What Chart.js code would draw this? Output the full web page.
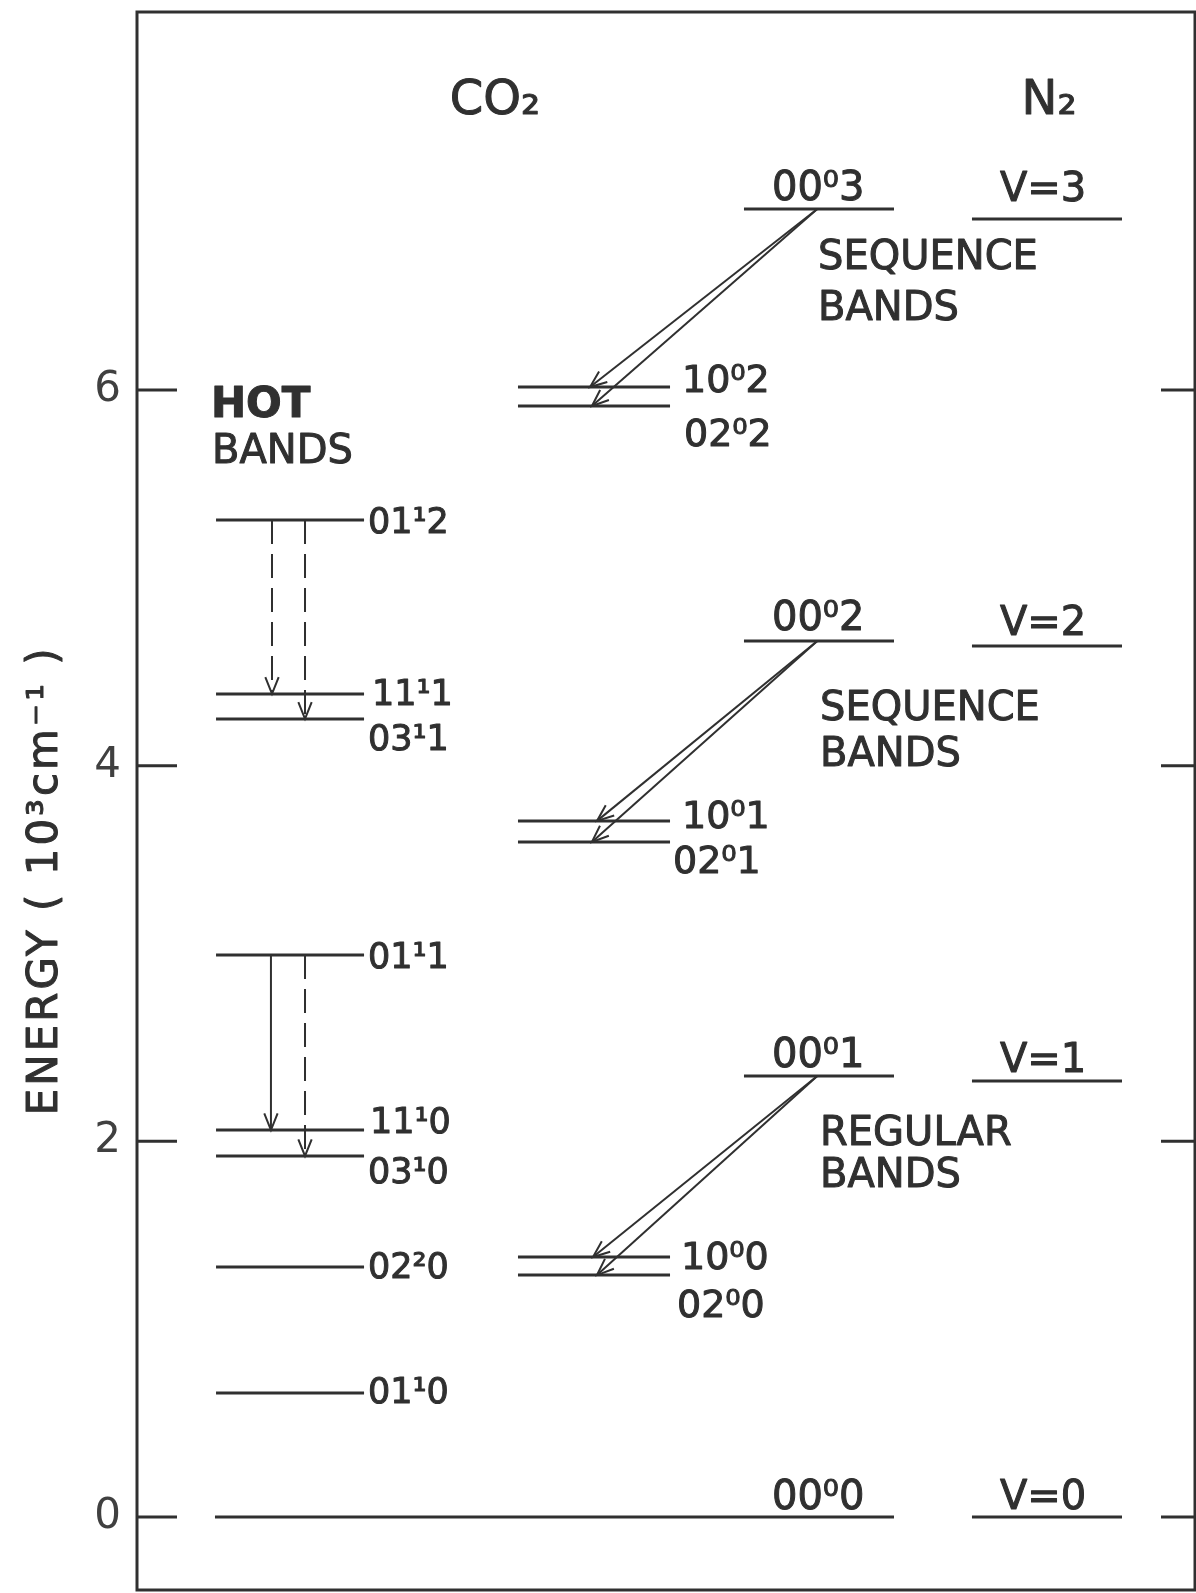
<!DOCTYPE html>
<html>
<head>
<meta charset="utf-8">
<script src="https://cdn.jsdelivr.net/npm/chart.js@4/dist/chart.umd.min.js"></script>
<style>
html,body{margin:0;padding:0;background:#ffffff;}
canvas{display:block;}
</style>
</head>
<body>
<canvas id="c" width="1196" height="1593"></canvas>
<script>
// ---------------- DATA (energies in 10^3 cm^-1) ----------------
const yTicks = [0, 2, 4, 6];

// CO2 bending-mode "hot band" levels
const hotNames  = ['01¹0', '02²0', '03¹0', '11¹0', '01¹1', '03¹1', '11¹1', '01¹2'];
const hotEnergy = [0.660, 1.331, 1.922, 2.060, 2.992, 4.249, 4.382, 5.308];

// CO2 Fermi-resonance lower levels
const midNames  = ['02⁰0', '10⁰0', '02⁰1', '10⁰1', '02⁰2', '10⁰2'];
const midEnergy = [1.288, 1.384, 3.594, 3.706, 5.915, 6.016];

// CO2 asymmetric stretch ladder
const asymNames  = ['00⁰0', '00⁰1', '00⁰2', '00⁰3'];
const asymEnergy = [0, 2.348, 4.664, 6.964];

// N2 vibrational ladder
const n2Names  = ['V=0', 'V=1', 'V=2', 'V=3'];
const n2Energy = [0, 2.321, 4.637, 6.911];

// transitions
const hotFrom   = ['01¹2', '01¹2', '01¹1', '01¹1'];
const hotTo     = ['11¹1', '03¹1', '11¹0', '03¹0'];
const hotDashed = [true, true, false, true];
const seqFrom = ['00⁰3', '00⁰3', '00⁰2', '00⁰2', '00⁰1', '00⁰1'];
const seqTo   = ['10⁰2', '02⁰2', '10⁰1', '02⁰1', '10⁰0', '02⁰0'];

// ---------------- LAYOUT (x in 0..100 units of the horizontal scale) ----------------
const columns = {hot: [7.47, 21.46], mid: [36.01, 50.38], asym: [57.37, 71.55], n2: [78.92, 93.10]};
const groundStartX = 7.37;
const hotArrowX = [12.76, 15.88, 12.66, 15.88];
const seqStartX = 64.3;
const seqEndX = [42.82, 43.0, 43.48, 43.0, 43.1, 43.48];

// label offsets in px: [dx from anchor, dy from line]
const hotLabelDx = [4, 4, 4, 6, 4, 4, 8, 4];
const hotLabelDy = [10, 11, 27, 3, 13, 31, 11, 13];
const midLabelDx = [7, 11, 3, 12, 14, 12];
const midLabelDy = [42, 12, 31, 7, 40, 5];
const asymLabelDy = [-8, -9, -11, -9];
const n2LabelDy = [-8, -9, -11, -18];

const notes = [
  {t: 'CO₂', x: 29.55, y: 7.470, size: 48, weight: 'normal'},
  {t: 'N₂', x: 83.6, y: 7.470, size: 48, weight: 'normal'},
  {t: 'HOT', x: 6.99, y: 5.856, size: 42, weight: 'bold'},
  {t: 'BANDS', x: 7.09, y: 5.611, size: 40, weight: 'normal'},
  {t: 'SEQUENCE', x: 64.37, y: 6.644, size: 40, weight: 'normal'},
  {t: 'BANDS', x: 64.37, y: 6.373, size: 40, weight: 'normal'},
  {t: 'SEQUENCE', x: 64.56, y: 4.243, size: 40, weight: 'normal'},
  {t: 'BANDS', x: 64.56, y: 3.998, size: 40, weight: 'normal'},
  {t: 'REGULAR', x: 64.56, y: 1.981, size: 40, weight: 'normal'},
  {t: 'BANDS', x: 64.56, y: 1.757, size: 40, weight: 'normal'}
];
const yTitle = 'ENERGY ( 10³cm⁻¹ )';
const yTitleAt = 3.39;

const INK = '#303030';
const FONT = '"DejaVu Sans", "Liberation Sans", sans-serif';

// ---------------- BUILD ----------------
const levels = [];
hotNames.forEach((n, i) => levels.push({name: n, e: hotEnergy[i], col: 'hot', dx: hotLabelDx[i], dy: hotLabelDy[i], size: 35}));
midNames.forEach((n, i) => levels.push({name: n, e: midEnergy[i], col: 'mid', dx: midLabelDx[i], dy: midLabelDy[i], size: 38}));
asymNames.forEach((n, i) => levels.push({name: n, e: asymEnergy[i], col: 'asym', dx: 28, dy: asymLabelDy[i], size: 40}));
n2Names.forEach((n, i) => levels.push({name: n, e: n2Energy[i], col: 'n2', dx: 28, dy: n2LabelDy[i], size: 40}));
const energyOf = {};
levels.forEach(l => energyOf[l.name] = l.e);

const datasets = [];
levels.forEach(l => {
  const c = columns[l.col];
  const x0 = (l.col === 'asym' && l.e === 0) ? groundStartX : c[0];
  datasets.push({
    data: [{x: x0, y: l.e}, {x: c[1], y: l.e}],
    showLine: true, borderColor: INK, borderWidth: 3, pointRadius: 0, borderCapStyle: 'butt'
  });
});
const arrowIdx = [];
hotFrom.forEach((f, i) => {
  arrowIdx.push(datasets.length);
  datasets.push({
    data: [{x: hotArrowX[i], y: energyOf[f]}, {x: hotArrowX[i], y: energyOf[hotTo[i]]}],
    showLine: true, borderColor: INK, borderWidth: 2, pointRadius: 0,
    borderDash: hotDashed[i] ? [24, 10] : []
  });
});
seqFrom.forEach((f, i) => {
  arrowIdx.push(datasets.length);
  datasets.push({
    data: [{x: seqStartX, y: energyOf[f]}, {x: seqEndX[i], y: energyOf[seqTo[i]]}],
    showLine: true, borderColor: INK, borderWidth: 2, pointRadius: 0
  });
});

function heavyText(ctx, s, px, py) {
  ctx.fillText(s, px, py);
  ctx.strokeText(s, px, py);
}

const overlay = {
  id: 'overlay',
  afterDatasetsDraw(chart) {
    const {ctx, chartArea: a, scales: {x, y}} = chart;
    ctx.save();
    ctx.strokeStyle = INK;
    ctx.fillStyle = INK;
    // frame
    ctx.lineWidth = 3;
    ctx.strokeRect(a.left, a.top, a.right - a.left, a.bottom - a.top);
    // inward ticks on both sides
    y.ticks.forEach(t => {
      const py = y.getPixelForValue(t.value);
      ctx.beginPath();
      ctx.moveTo(a.left, py); ctx.lineTo(a.left + 40, py);
      ctx.moveTo(a.right - 34, py); ctx.lineTo(a.right, py);
      ctx.stroke();
    });
    // arrowheads
    ctx.lineWidth = 2;
    ctx.setLineDash([]);
    arrowIdx.forEach(i => {
      const pts = chart.getDatasetMeta(i).data;
      const p0 = pts[0], p1 = pts[1];
      const ang = Math.atan2(p1.y - p0.y, p1.x - p0.x);
      const L = 18, w = 0.38;
      ctx.beginPath();
      ctx.moveTo(p1.x - L * Math.cos(ang - w), p1.y - L * Math.sin(ang - w));
      ctx.lineTo(p1.x, p1.y);
      ctx.lineTo(p1.x - L * Math.cos(ang + w), p1.y - L * Math.sin(ang + w));
      ctx.stroke();
    });
    // level labels
    ctx.textBaseline = 'alphabetic';
    ctx.textAlign = 'left';
    ctx.lineWidth = 1;
    ctx.lineJoin = 'round';
    levels.forEach(l => {
      const c = columns[l.col];
      const py = y.getPixelForValue(l.e);
      const anchor = (l.col === 'hot' || l.col === 'mid') ? x.getPixelForValue(c[1]) : x.getPixelForValue(c[0]);
      ctx.font = `normal ${l.size}px ${FONT}`;
      heavyText(ctx, l.name, anchor + l.dx, py + l.dy);
    });
    // annotations
    notes.forEach(n => {
      ctx.font = `${n.weight} ${n.size}px ${FONT}`;
      heavyText(ctx, n.t, x.getPixelForValue(n.x), y.getPixelForValue(n.y));
    });
    // y-axis title
    ctx.save();
    ctx.translate(a.left - 91, y.getPixelForValue(yTitleAt));
    ctx.rotate(-Math.PI / 2);
    ctx.textAlign = 'center';
    ctx.textBaseline = 'middle';
    ctx.font = `normal 42px ${FONT}`;
    if ('letterSpacing' in ctx) ctx.letterSpacing = '3px';
    heavyText(ctx, yTitle, 0, 0);
    ctx.restore();
    ctx.restore();
  }
};

new Chart(document.getElementById('c'), {
  type: 'scatter',
  data: {datasets},
  options: {
    responsive: false,
    animation: false,
    devicePixelRatio: 1,
    layout: {padding: {top: 12, bottom: 3, right: 1, left: 0}},
    plugins: {legend: {display: false}, tooltip: {enabled: false}},
    scales: {
      x: {type: 'linear', min: 0, max: 100, display: false},
      y: {
        type: 'linear', min: -0.3887, max: 8.0125,
        afterBuildTicks: s => { s.ticks = yTicks.map(v => ({value: v})); },
        afterFit: s => { s.width = 137; s.paddingTop = 0; s.paddingBottom = 0; },
        ticks: {font: {family: 'DejaVu Sans', size: 42}, color: '#404040', padding: 16},
        grid: {display: false, drawTicks: false},
        border: {display: false}
      }
    }
  },
  plugins: [overlay]
});
</script>
</body>
</html>
